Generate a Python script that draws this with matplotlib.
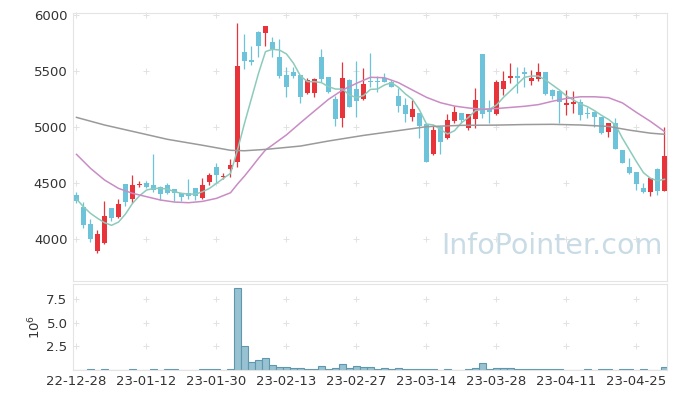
import matplotlib
matplotlib.use("Agg")
import matplotlib.pyplot as plt
import numpy as np

# daily candles, one per trading day (index 0 = 22-12-28)
opens = [4390, 4290, 4130, 3895, 3965, 4275, 4195, 4490, 4360, 4478,
         4500, 4485, 4460, 4485, 4445, 4408, 4410, 4452, 4370, 4512,
         4645, 4550, 4625, 4690, 5673, 5598, 5845, 5836, 5756, 5622,
         5461, 5491, 5461, 5301, 5301, 5622, 5444, 5250, 5083, 5420,
         5337, 5247, 5411, 5410, 5435, 5405, 5277, 5196, 5086, 5122,
         5027, 4756, 4997, 4899, 5056, 5122, 4994, 5074, 5652, 5158,
         5116, 5339, 5437, 5455, 5494, 5414, 5428, 5491, 5330, 5321,
         5195, 5208, 5220, 5128, 5137, 5086, 4952, 5033, 4795, 4646,
         4595, 4455, 4422, 4628, 4431]
highs = [4420, 4330, 4175, 4080, 4340, 4280, 4360, 4495, 4568, 4520,
         4515, 4760, 4470, 4500, 4450, 4410, 4535, 4455, 4548, 4586,
         4675, 4590, 4710, 5925, 5830, 5725, 5860, 5905, 5806, 5782,
         5533, 5539, 5465, 5440, 5440, 5693, 5445, 5277, 5583, 5425,
         5592, 5524, 5658, 5452, 5485, 5420, 5345, 5256, 5241, 5125,
         5030, 5018, 5000, 5116, 5190, 5125, 5115, 5345, 5655, 5241,
         5420, 5500, 5569, 5533, 5533, 5509, 5574, 5495, 5335, 5325,
         5330, 5324, 5247, 5182, 5140, 5090, 5035, 5077, 4795, 4720,
         4598, 4497, 4545, 4630, 4997]
lows = [4320, 4095, 3970, 3877, 3955, 4160, 4190, 4292, 4318, 4460,
        4455, 4422, 4348, 4400, 4335, 4335, 4355, 4345, 4360, 4482,
        4500, 4540, 4555, 4645, 5515, 5553, 5628, 5723, 5622, 5435,
        5265, 5435, 5217, 5295, 5271, 5405, 5305, 5012, 4997, 5180,
        5092, 5240, 5360, 5316, 5400, 5355, 5137, 5047, 5056, 4899,
        4690, 4750, 4759, 4890, 5038, 5040, 4973, 4988, 5077, 5040,
        5107, 5286, 5396, 5306, 5360, 5375, 5415, 5285, 5247, 5033,
        5107, 5122, 5062, 5077, 5003, 4937, 4913, 4800, 4680, 4580,
        4437, 4413, 4384, 4393, 4431]
closes = [4340, 4125, 4000, 4045, 4205, 4185, 4310, 4330, 4480, 4494,
          4467, 4437, 4400, 4410, 4408, 4378, 4380, 4388, 4482, 4571,
          4571, 4565, 4660, 5545, 5593, 5580, 5726, 5902, 5696, 5458,
          5360, 5455, 5271, 5420, 5425, 5426, 5316, 5074, 5435, 5182,
          5235, 5384, 5399, 5402, 5405, 5360, 5190, 5116, 5161, 5012,
          4690, 4973, 4869, 5062, 5131, 5060, 5113, 5241, 5116, 5134,
          5399, 5411, 5455, 5437, 5476, 5440, 5488, 5292, 5277, 5226,
          5210, 5226, 5107, 5116, 5086, 4949, 5033, 4801, 4682, 4592,
          4488, 4422, 4542, 4431, 4741]
# volume in millions of shares
volume = [0.02, 0.02, 0.08, 0.02, 0.08, 0.02, 0.02, 0.02, 0.08, 0.02,
          0.02, 0.08, 0.02, 0.08, 0.08, 0.02, 0.02, 0.02, 0.08, 0.08,
          0.08, 0.02, 0.08, 8.68, 2.57, 0.89, 1.10, 1.29, 0.54, 0.32,
          0.32, 0.21, 0.21, 0.10, 0.10, 0.43, 0.10, 0.20, 0.64, 0.20,
          0.43, 0.32, 0.32, 0.10, 0.25, 0.10, 0.25, 0.10, 0.10, 0.10,
          0.10, 0.10, 0.02, 0.08, 0.02, 0.02, 0.10, 0.25, 0.79, 0.10,
          0.25, 0.25, 0.25, 0.10, 0.10, 0.10, 0.10, 0.10, 0.10, 0.10,
          0.02, 0.02, 0.02, 0.08, 0.02, 0.08, 0.08, 0.02, 0.08, 0.08,
          0.02, 0.08, 0.02, 0.02, 0.36]

# moving averages
ma5 = [4357, 4288, 4229, 4185, 4146, 4122, 4151, 4223, 4318, 4386,
       4437, 4452, 4452, 4446, 4422, 4408, 4401, 4401, 4422, 4452,
       4497, 4542, 4586, 4795, 5033, 5256, 5479, 5673, 5694, 5687,
       5652, 5569, 5455, 5405, 5405, 5396, 5360, 5339, 5339, 5286,
       5262, 5280, 5336, 5339, 5375, 5396, 5354, 5295, 5247, 5152,
       5027, 5018, 4979, 4937, 4967, 5038, 5086, 5146, 5158, 5158,
       5196, 5265, 5324, 5384, 5444, 5455, 5455, 5420, 5375, 5330,
       5277, 5241, 5205, 5182, 5146, 5104, 5068, 5018, 4899, 4795,
       4690, 4592, 4542, 4521, 4533]
ma20_idx = [0, 2, 4, 6, 8, 10, 12, 14, 16, 18, 20, 22, 23, 24, 25, 26, 27, 28,
            30, 32, 34, 36, 38, 40, 42, 44, 46, 48, 50, 52, 54, 56, 58, 60,
            62, 64, 66, 68, 70, 72, 74, 76, 78, 80, 82, 84]
ma20 = [4756, 4631, 4527, 4452, 4408, 4378, 4348, 4330, 4324, 4336, 4363,
        4413, 4491, 4562, 4640, 4720, 4795, 4839, 4930, 5038, 5143, 5247,
        5330, 5390, 5444, 5440, 5396, 5330, 5265, 5217, 5187, 5170, 5158,
        5165, 5175, 5185, 5200, 5230, 5255, 5270, 5270, 5262, 5215, 5130,
        5050, 4960]
ma60_idx = [0, 4, 9, 13, 18, 22, 24, 27, 32, 36, 41, 46, 50, 55, 60, 64, 68,
            72, 76, 79, 82, 84]
ma60 = [5086, 5018, 4947, 4890, 4837, 4792, 4788, 4800, 4830, 4875, 4925,
        4968, 5003, 5015, 5017, 5022, 5024, 5018, 5005, 4972, 4945, 4935]

tick_pos = [0, 10, 20, 30, 40, 50, 60, 70, 80]
tick_labels = ['22-12-28', '23-01-12', '23-01-30', '23-02-13', '23-02-27',
               '23-03-14', '23-03-28', '23-04-11', '23-04-25']

up_color = '#e8333b'
down_color = '#6cc3da'
grid_color = '#e2e2e2'
text_color = '#333333'

o = np.array(opens)
c = np.array(closes)
x = np.arange(len(opens))
up = c >= o
colors = np.where(up, up_color, down_color)

fig = plt.figure(figsize=(6.77, 3.99), dpi=100)
ax = fig.add_axes([73 / 677, 118 / 399, 594 / 677, 268 / 399])
axv = fig.add_axes([73 / 677, 29 / 399, 594 / 677, 86 / 399])

# candles
ax.vlines(x, lows, highs, colors=colors, linewidth=0.9, zorder=2)
ax.bar(x, np.abs(c - o), bottom=np.minimum(o, c), width=0.7,
       color=colors, zorder=3)

ax.plot(x, ma5, color='#8ccbbb', lw=1.1, zorder=4)
ax.plot(ma20_idx, ma20, color='#c98cc5', lw=1.1, zorder=4)
ax.plot(ma60_idx, ma60, color='#9a9a9a', lw=1.1, zorder=4)

ax.set_xlim(-0.5, 84.36)
ax.set_ylim(3625, 6018)
ax.set_yticks([4000, 4500, 5000, 5500, 6000])
ax.set_xticks(tick_pos)
ax.tick_params(axis='x', labelbottom=False, length=0)
ax.tick_params(axis='y', length=0, labelsize=9.5, colors=text_color, pad=4)

ax.text(0.993, 0.08, 'InfoPointer.com', transform=ax.transAxes,
        ha='right', va='bottom', fontsize=20.5, color='#c9dce6', zorder=1)

# volume
axv.bar(x, volume, width=1.0, color='#98c2d1', edgecolor='#5f97ae',
        linewidth=0.8, zorder=2)
axv.set_xlim(-0.5, 84.36)
axv.set_ylim(0, 9.06)
axv.set_yticks([2.5, 5.0, 7.5])
axv.set_xticks(tick_pos)
axv.set_xticklabels(tick_labels)
axv.tick_params(length=0, labelsize=9.5, colors=text_color)
axv.tick_params(axis='y', pad=4)
axv.set_ylabel('10$^6$', fontsize=9.5, color=text_color, labelpad=2)

# cross-shaped grid marks at the tick intersections
for a, yt in [(ax, [4000, 4500, 5000, 5500, 6000]), (axv, [2.5, 5.0, 7.5])]:
    gx, gy = np.meshgrid(tick_pos, yt)
    a.scatter(gx.ravel(), gy.ravel(), marker='+', s=16, color=grid_color,
              linewidths=0.7, zorder=0, clip_on=False)
    for s in a.spines.values():
        s.set_color('#e4e4e4')

fig.savefig('out.png', dpi=100)
